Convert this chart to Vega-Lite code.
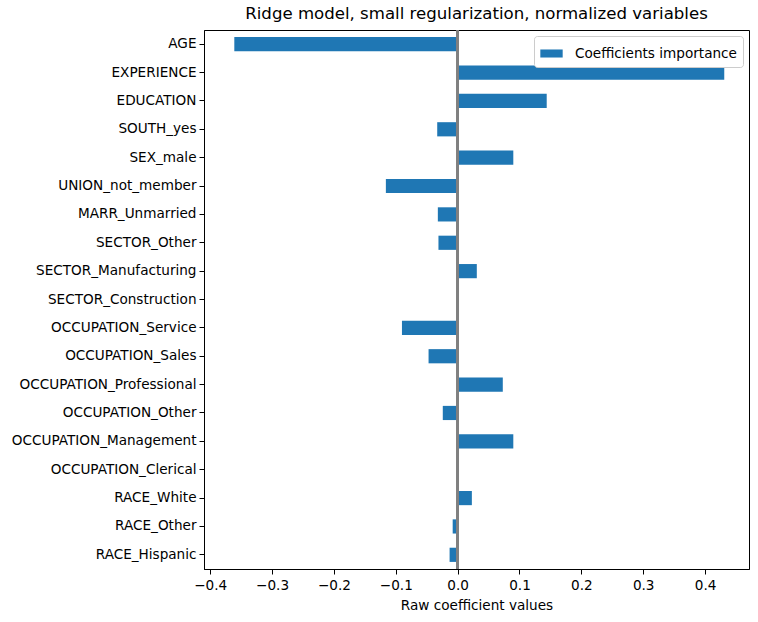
{
  "$schema": "https://vega.github.io/schema/vega-lite/v6.json",
  "width": 545,
  "height": 539,
  "autosize": {"type": "none"},
  "padding": {"left": 204, "top": 30, "right": 9, "bottom": 53},
  "background": "white",
  "config": {
    "font": "DejaVu Sans",
    "view": {"stroke": "black", "strokeWidth": 1}
  },
  "title": {
    "text": "Ridge model, small regularization, normalized variables",
    "fontSize": 16.6,
    "fontWeight": "normal",
    "font": "DejaVu Sans",
    "color": "black",
    "offset": 6
  },
  "data": {
    "values": [
      {"feature": "AGE", "coef": -0.361, "order": 1, "series": "Coefficients importance"},
      {"feature": "EXPERIENCE", "coef": 0.431, "order": 2, "series": "Coefficients importance"},
      {"feature": "EDUCATION", "coef": 0.144, "order": 3, "series": "Coefficients importance"},
      {"feature": "SOUTH_yes", "coef": -0.033, "order": 4, "series": "Coefficients importance"},
      {"feature": "SEX_male", "coef": 0.090, "order": 5, "series": "Coefficients importance"},
      {"feature": "UNION_not_member", "coef": -0.116, "order": 6, "series": "Coefficients importance"},
      {"feature": "MARR_Unmarried", "coef": -0.032, "order": 7, "series": "Coefficients importance"},
      {"feature": "SECTOR_Other", "coef": -0.031, "order": 8, "series": "Coefficients importance"},
      {"feature": "SECTOR_Manufacturing", "coef": 0.031, "order": 9, "series": "Coefficients importance"},
      {"feature": "SECTOR_Construction", "coef": 0.0, "order": 10, "series": "Coefficients importance"},
      {"feature": "OCCUPATION_Service", "coef": -0.090, "order": 11, "series": "Coefficients importance"},
      {"feature": "OCCUPATION_Sales", "coef": -0.047, "order": 12, "series": "Coefficients importance"},
      {"feature": "OCCUPATION_Professional", "coef": 0.073, "order": 13, "series": "Coefficients importance"},
      {"feature": "OCCUPATION_Other", "coef": -0.024, "order": 14, "series": "Coefficients importance"},
      {"feature": "OCCUPATION_Management", "coef": 0.090, "order": 15, "series": "Coefficients importance"},
      {"feature": "OCCUPATION_Clerical", "coef": 0.0, "order": 16, "series": "Coefficients importance"},
      {"feature": "RACE_White", "coef": 0.023, "order": 17, "series": "Coefficients importance"},
      {"feature": "RACE_Other", "coef": -0.008, "order": 18, "series": "Coefficients importance"},
      {"feature": "RACE_Hispanic", "coef": -0.013, "order": 19, "series": "Coefficients importance"}
    ]
  },
  "layer": [
    {
      "mark": {"type": "bar"},
      "encoding": {
        "y": {
          "field": "feature",
          "type": "nominal",
          "sort": {"field": "order", "order": "ascending"},
          "scale": {"paddingInner": 0.5, "paddingOuter": 0.25},
          "axis": {
            "title": null,
            "labelFontSize": 13.6,
            "labelLimit": 0,
            "labelColor": "black",
            "tickColor": "black",
            "tickSize": 5,
            "domainColor": "black",
            "labelPadding": 3
          }
        },
        "x": {
          "field": "coef",
          "type": "quantitative",
          "scale": {"domain": [-0.41, 0.471], "nice": false, "zero": false},
          "axis": {
            "title": "Raw coefficient values",
            "titleFontSize": 13.6,
            "titleFontWeight": "normal",
            "titleColor": "black",
            "titlePadding": 7,
            "values": [-0.4, -0.3, -0.2, -0.1, 0, 0.1, 0.2, 0.3, 0.4],
            "format": ".1f",
            "labelFontSize": 13.6,
            "labelColor": "black",
            "tickColor": "black",
            "tickSize": 5,
            "domainColor": "black",
            "grid": false,
            "labelPadding": 4
          }
        },
        "color": {
          "field": "series",
          "type": "nominal",
          "scale": {"range": ["#1f77b4"]},
          "legend": {
            "title": null,
            "orient": "top-right",
            "offset": 6,
            "labelFontSize": 13.6,
            "labelLimit": 0,
            "labelColor": "black",
            "symbolType": "M-1,-0.36H1V0.36H-1Z",
            "symbolSize": 500,
            "symbolOpacity": 1,
            "symbolStrokeWidth": 0,
            "strokeColor": "#cccccc",
            "fillColor": "white",
            "cornerRadius": 3,
            "padding": 6,
            "labelOffset": 12
          }
        }
      }
    },
    {
      "mark": {"type": "rule", "color": "gray", "strokeWidth": 2},
      "encoding": {"x": {"datum": 0}}
    }
  ]
}
